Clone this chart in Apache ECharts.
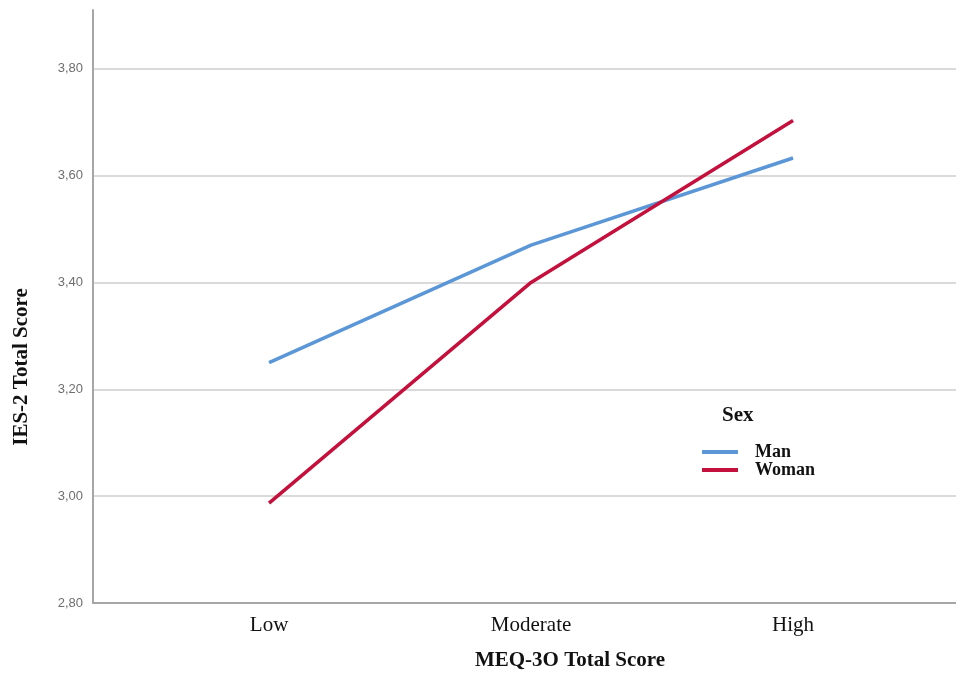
<!DOCTYPE html>
<html>
<head>
<meta charset="utf-8">
<script src="https://cdn.jsdelivr.net/npm/echarts@6/dist/echarts.min.js"></script>
<style>html,body{margin:0;padding:0;background:#fff}#c{width:956px;height:678px}</style>
</head>
<body>
<div id="c"></div>
<script>
const categories = ['Low', 'Moderate', 'High'];
const manValues = [3.25, 3.47, 3.633];
const womanValues = [2.987, 3.40, 3.703];
const yTicks = [2.8, 3.0, 3.2, 3.4, 3.6, 3.8];

const chart = echarts.init(document.getElementById('c'));
const toPts = vals => vals.map((v, i) => [i, v]);
chart.setOption({
  animation: false,
  grid: { left: 93, right: 0, top: 10, bottom: 75 },
  xAxis: {
    type: 'value', min: -0.672, max: 2.622,
    axisLine: { show: true, onZero: false, lineStyle: { color: '#a6a6a6', width: 2 } },
    axisTick: { show: false },
    splitLine: { show: false },
    axisLabel: {
      customValues: categories.map((c, i) => i),
      formatter: v => categories[Math.round(v)] || '',
      fontFamily: 'Liberation Serif', fontSize: 21, color: '#111', margin: 12
    }
  },
  yAxis: {
    type: 'value', min: 2.8, max: 3.91, interval: 0.2,
    axisLine: { show: true, onZero: false, lineStyle: { color: '#a6a6a6', width: 2 } },
    axisTick: { show: false },
    splitLine: { show: true, showMaxLine: false, showMinLine: false, lineStyle: { color: '#dadada', width: 2 } },
    axisLabel: {
      showMaxLabel: false,
      formatter: v => yTicks.some(t => Math.abs(t - v) < 1e-6) ? v.toFixed(2).replace('.', ',') : '',
      fontFamily: 'Liberation Sans', fontSize: 13, color: '#6e6e6e', margin: 10
    }
  },
  legend: {
    orient: 'vertical', left: 697, top: 438,
    itemWidth: 36, itemHeight: 4, itemGap: 0, icon: 'rect',
    textStyle: { fontFamily: 'Liberation Serif', fontWeight: 'bold', fontSize: 18, lineHeight: 18, color: '#111', padding: [0, 0, 0, 12] },
    data: ['Man', 'Woman']
  },
  graphic: [
    { type: 'text', left: 722, top: 405, style: { text: 'Sex', font: 'bold 21px "Liberation Serif"', fill: '#111' } },
    { type: 'text', x: 22, y: 367, rotation: Math.PI / 2, style: { text: 'IES-2 Total Score', font: 'bold 21px "Liberation Serif"', fill: '#111', align: 'center', verticalAlign: 'middle' } },
    { type: 'text', x: 570, y: 661, style: { text: 'MEQ-3O Total Score', font: 'bold 21px "Liberation Serif"', fill: '#111', align: 'center', verticalAlign: 'middle' } }
  ],
  series: [
    { name: 'Man', type: 'line', data: toPts(manValues), symbol: 'none', lineStyle: { color: '#5b96d6', width: 3.5 }, itemStyle: { color: '#5b96d6' } },
    { name: 'Woman', type: 'line', data: toPts(womanValues), symbol: 'none', lineStyle: { color: '#c4103c', width: 3.5 }, itemStyle: { color: '#c4103c' } }
  ]
});
</script>
</body>
</html>
